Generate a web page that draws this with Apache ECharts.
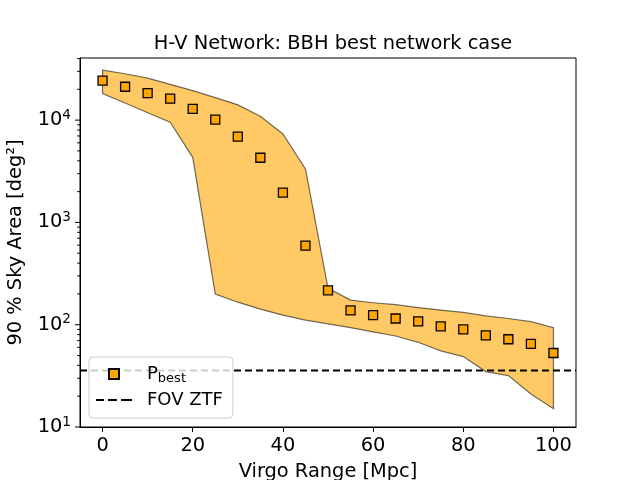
<!DOCTYPE html>
<html>
<head>
<meta charset="utf-8">
<script src="https://cdn.jsdelivr.net/npm/echarts@6/dist/echarts.min.js"></script>
<style>
  html, body { margin: 0; padding: 0; background: #fff; }
  #chart { width: 640px; height: 480px; }
</style>
</head>
<body>
<div id="chart"></div>
<script>
// Virgo range [Mpc]
const rangeMpc = [0, 5, 10, 15, 20, 25, 30, 35, 40, 45, 50, 55, 60, 65, 70, 75, 80, 85, 90, 95, 100];
// P_best 90% sky area [deg^2]
const pBest = [24300, 21200, 18400, 16200, 12900, 10100, 6910, 4290, 1960, 594, 217, 138, 124, 115, 108, 96.4, 90.1, 78.8, 72.1, 64.9, 52.9];
// shaded band edges
const bandUpper = [30800, 28400, 25700, 22400, 19400, 16600, 14100, 10900, 7330, 3330, 228, 174, 164, 157, 147, 139, 132, 122, 115, 107, 93.5];
const bandLower = [18200, 14700, 11800, 9530, 4330, 199, 166, 142, 124, 111, 102, 93.5, 85, 77.6, 67.3, 55.5, 48.8, 34.8, 31.8, 21, 15.1];
// ZTF field of view
const fovZtf = 35.6;

const xTicks = [0, 20, 40, 60, 80, 100];
const yTicks = [10, 100, 1000, 10000];
const xMin = -5, xMax = 105;
const yMin = 10, yMax = 40500;

// minor log ticks 2..9 x 10^n
const yMinorTicks = [];
yTicks.forEach((d) => {
  for (let k = 2; k <= 9; k++) {
    if (d * k <= yMax) yMinorTicks.push(d * k);
  }
});

const FONT = 'DejaVu Sans';
const FS = 19.4;

const chart = echarts.init(document.getElementById('chart'), null, { renderer: 'canvas' });

const option = {
  animation: false,
  textStyle: { fontFamily: FONT },
  title: {
    text: 'H-V Network: BBH best network case',
    left: 328,
    top: 29,
    textAlign: 'center',
    textStyle: { fontFamily: FONT, fontSize: FS, fontWeight: 'normal', color: '#000' }
  },
  grid: {
    left: 80, right: 64, top: 58, bottom: 53,
    outerBoundsMode: 'none',
    containLabel: false,
    show: true, borderColor: '#000', borderWidth: 1, backgroundColor: 'transparent'
  },
  legend: {
    left: 89,
    top: 357,
    orient: 'vertical',
    itemWidth: 36,
    itemHeight: 10,
    itemGap: 6,
    padding: [8, 10, 9, 7],
    backgroundColor: 'rgba(255,255,255,0.8)',
    borderColor: '#cccccc',
    borderWidth: 1,
    borderRadius: 4,
    data: [
      { name: 'Pbest', icon: 'path://M0,0h10v10h-10z' },
      { name: 'FOV ZTF', icon: 'path://M0,0h8v2h-8zM12,0h9v2h-9zM25,0h11v2h-11z' }
    ],
    formatter: (name) => (name === 'Pbest' ? '{p|P}{s|best}' : '{p|' + name + '}'),
    textStyle: {
      fontFamily: FONT,
      fontSize: 18,
      color: '#000',
      padding: [0, 0, 0, 10],
      rich: {
        p: { fontFamily: FONT, fontSize: 18, color: '#000' },
        s: { fontFamily: FONT, fontSize: 13, color: '#000', padding: [9, 0, 0, 0] }
      }
    }
  },
  xAxis: {
    type: 'value',
    min: xMin,
    max: xMax,
    name: 'Virgo Range [Mpc]',
    nameLocation: 'middle',
    nameGap: 35,
    nameTextStyle: { fontFamily: FONT, fontSize: FS, color: '#000' },
    axisLine: { onZero: false, lineStyle: { color: '#000', width: 1 } },
    axisTick: { show: true, customValues: xTicks, length: 5, lineStyle: { color: '#000' } },
    axisLabel: { customValues: xTicks, margin: 9, fontFamily: FONT, fontSize: FS, color: '#000' },
    splitLine: { show: false }
  },
  yAxis: {
    type: 'log',
    logBase: 10,
    min: yMin,
    max: yMax,
    name: '90 % Sky Area [deg²]',
    nameLocation: 'middle',
    nameGap: 55,
    nameTextStyle: { fontFamily: FONT, fontSize: FS, color: '#000' },
    axisLine: { onZero: false, lineStyle: { color: '#000', width: 1 } },
    axisTick: { show: false },
    axisLabel: {
      customValues: yTicks,
      margin: 9,
      formatter: (v) => '{b|10}{e|' + Math.round(Math.log10(v)) + '}',
      rich: {
        b: { fontFamily: FONT, fontSize: FS, color: '#000' },
        e: { fontFamily: FONT, fontSize: 13.6, color: '#000', padding: [0, 0, 10, 0] }
      }
    },
    splitLine: { show: false }
  },
  series: [
    {
      name: 'band',
      type: 'custom',
      silent: true,
      z: 1,
      data: [[0, 100]],
      renderItem: (params, api) => {
        const pts = [];
        for (let i = 0; i < rangeMpc.length; i++) pts.push(api.coord([rangeMpc[i], bandUpper[i]]));
        for (let i = rangeMpc.length - 1; i >= 0; i--) pts.push(api.coord([rangeMpc[i], bandLower[i]]));
        return {
          type: 'polygon',
          shape: { points: pts },
          style: { fill: '#FFC966', stroke: 'rgba(0,0,0,0.55)', lineWidth: 1.2 }
        };
      }
    },
    {
      name: 'yticks',
      type: 'custom',
      silent: true,
      z: 5,
      data: yTicks.map((v) => [xMin, v, 5]).concat(yMinorTicks.map((v) => [xMin, v, 2.8])),
      renderItem: (params, api) => {
        const p = api.coord([api.value(0), api.value(1)]);
        const len = api.value(2);
        return {
          type: 'line',
          shape: { x1: p[0] - len, y1: p[1], x2: p[0], y2: p[1] },
          style: { stroke: '#000', lineWidth: 1 }
        };
      }
    },
    {
      name: 'FOV ZTF',
      type: 'line',
      z: 3,
      symbol: 'none',
      silent: true,
      data: [[xMin, fovZtf], [xMax, fovZtf]],
      lineStyle: { color: '#000', width: 2, type: [7, 4] },
      itemStyle: { color: '#000' }
    },
    {
      name: 'Pbest',
      type: 'scatter',
      z: 4,
      symbol: 'rect',
      symbolSize: 9,
      data: rangeMpc.map((x, i) => [x, pBest[i]]),
      itemStyle: { color: '#FFA500', borderColor: '#000', borderWidth: 1.3, opacity: 1 }
    }
  ]
};

chart.setOption(option);
</script>
</body>
</html>
